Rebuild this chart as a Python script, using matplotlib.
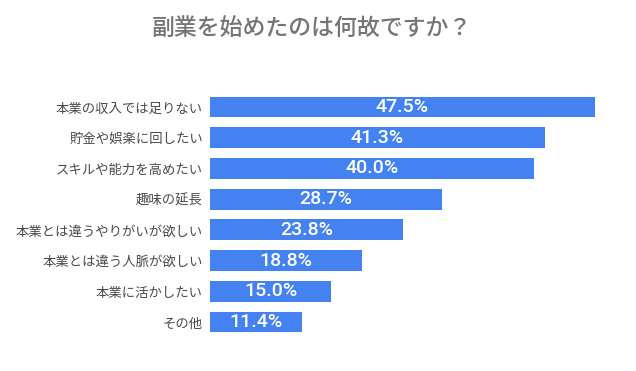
import matplotlib
matplotlib.use("Agg")
import matplotlib.pyplot as plt

categories = ["本業の収入では足りない", "貯金や娯楽に回したい", "スキルや能力を高めたい", "趣味の延長",
              "本業とは違うやりがいが欲しい", "本業とは違う人脈が欲しい", "本業に活かしたい", "その他"]
values = [47.5, 41.3, 40.0, 28.7, 23.8, 18.8, 15.0, 11.4]
labels = ["47.5%", "41.3%", "40.0%", "28.7%", "23.8%", "18.8%", "15.0%", "11.4%"]
title = "副業を始めたのは何故ですか？"

plt.rcParams['font.family'] = ['Noto Sans CJK JP', 'DejaVu Sans']

fig = plt.figure(figsize=(6.36, 3.71), dpi=100)
ax = fig.add_axes([0.330, 0.0906, 0.637, 0.6624])

y = list(range(len(categories)))
ax.barh(y, values, height=0.68, color="#4482F2")
ax.set_ylim(len(categories) - 0.5, -0.5)
ax.set_xlim(0, 50)
ax.set_yticks(y)
ax.set_yticklabels(categories, fontsize=9.6, color="#4a4a4a")
ax.tick_params(axis='y', length=0, pad=5)
ax.set_xticks([])
for s in ax.spines.values():
    s.set_visible(False)

for yi, v, lab in zip(y, values, labels):
    ax.text(v / 2, yi, lab, ha="center", va="center", color="white",
            fontsize=14, fontweight="medium", family=["Roboto", "DejaVu Sans"])

fig.text(0.49, 0.924, title, ha="center", va="center", fontsize=16.5,
         fontweight="medium", color="#757575")

fig.savefig("out.png", dpi=100, facecolor="white")
